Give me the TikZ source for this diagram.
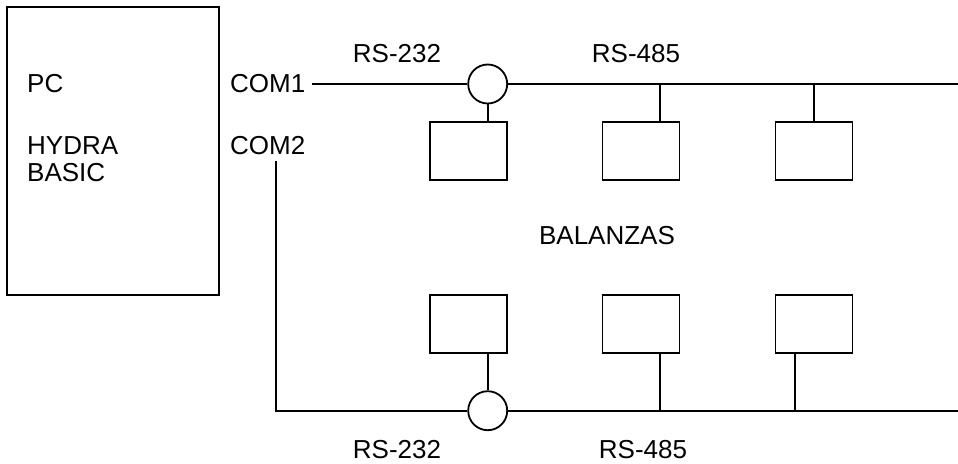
\documentclass[tikz,border=0pt]{standalone}
\usepackage{fontspec}
\setmainfont{Liberation Sans}
\usepackage{tikz}
\usetikzlibrary{positioning}
\tikzset{
  wire/.style={line width=1.8pt},
  pcbox/.style={draw,line width=1.8pt,minimum width=212pt,minimum height=288pt,inner sep=0pt},
  balbox/.style={draw,line width=1.8pt,minimum width=77pt,minimum height=58pt,inner sep=0pt},
  convcirc/.style={draw,circle,line width=1.8pt,minimum size=39pt,inner sep=0pt},
  lab/.style={font=\fontsize{26}{30}\selectfont,inner sep=0pt},
}

\begin{document}
\begin{tikzpicture}[x=1pt,y=-1pt]
        \useasboundingbox (0,0) rectangle (958,463);
        \def\yA{84}\def\yB{410.7}
        % PC
        \node[pcbox] (pc) at (113,151) {};
        \node[lab,anchor=west] (pclab) at (27,84) {PC};
        \node[lab,anchor=west] (hydra) at (27,146) {HYDRA};
        \node[lab,below right=8pt and 0pt of hydra.south west] (basic) {BASIC};
        % puertos
        \node[lab,anchor=west] (com1) at (230,84) {COM1};
        \node[lab,anchor=west] (com2) at (230,146) {COM2};
        % convertidores
        \node[convcirc] (conv1) at (487.7,\yA) {};
        \node[convcirc] (conv2) at (487.7,\yB) {};
        % balanzas arriba
        \node[balbox] (bal1) at (468.3,151) {};
        \node[balbox] (bal2) at (641,151) {};
        \node[balbox] (bal3) at (814,151) {};
        % balanzas abajo
        \node[balbox] (bal4) at (468.3,324) {};
        \node[balbox] (bal5) at (641,324) {};
        \node[balbox] (bal6) at (814,324) {};
        % textos
        \node[lab] (rsa1) at (397,53.4) {RS-232};
        \node[lab] (rsb1) at (636,53.4) {RS-485};
        \node[lab] (bal) at (607,236) {BALANZAS};
        \node[lab] (rsa2) at (397,449.5) {RS-232};
        \node[lab] (rsb2) at (643,449.5) {RS-485};
        % linea COM1
        \coordinate (end1) at (958,\yA);
        \coordinate (tap2) at (660,\yA);
        \coordinate (tap3) at (814,\yA);
        \draw[wire,shorten <=6pt] (com1.east) -- (conv1.west);
        \draw[wire] (conv1.east) -- (end1);
        \draw[wire] (conv1.south) -- (conv1.south |- bal1.north);
        \draw[wire] (tap2) -- (tap2 |- bal2.north);
        \draw[wire] (tap3) -- (tap3 |- bal3.north);
        % linea COM2
        \coordinate (c2top) at (276,161);
        \coordinate (end2) at (958,\yB);
        \coordinate (tap5) at (660,\yB);
        \coordinate (tap6) at (795,\yB);
        \draw[wire] (c2top) |- (conv2.west);
        \draw[wire] (conv2.east) -- (end2);
        \draw[wire] (conv2.north) -- (conv2.north |- bal4.south);
        \draw[wire] (tap5) -- (tap5 |- bal5.south);
        \draw[wire] (tap6) -- (tap6 |- bal6.south);
      \end{tikzpicture}
\end{document}
